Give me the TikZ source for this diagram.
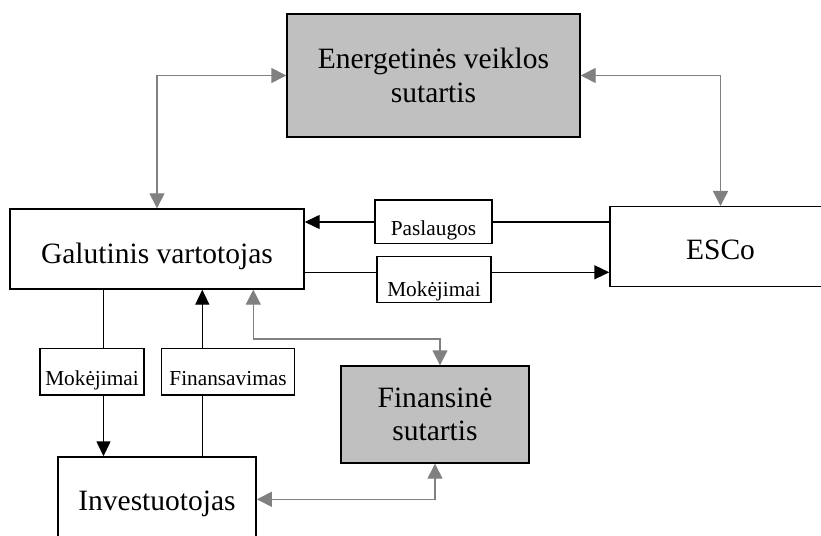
\documentclass[tikz,border=0pt]{standalone}
\usepackage{fontspec}
\setmainfont{Liberation Serif}
\usetikzlibrary{arrows.meta}
\definecolor{boxgray}{HTML}{C0C0C0}
\definecolor{linegray}{HTML}{808080}
\tikzset{
  bigbox/.style={draw=black, line width=1.4bp, inner sep=0pt, align=center,
    font=\fontsize{29.5bp}{33.4bp}\selectfont},
  graybox/.style={bigbox, fill=boxgray},
  lblbox/.style={draw=black, line width=1.4bp, fill=white, inner sep=0pt,
    font=\fontsize{21.3bp}{24bp}\selectfont},
  conn/.style={draw=black, line width=1.4bp, -{Triangle[length=15bp,width=14bp]}},
  gconn/.style={draw=linegray, line width=1.4bp,
    {Triangle[length=15bp,width=15bp]}-{Triangle[length=15bp,width=15bp]}}
}
\begin{document}
\begin{tikzpicture}[x=1bp, y=-1bp]
\useasboundingbox (0,0) rectangle (821,536);
\clip (0,0) rectangle (821,536);
\fill[white] (0,0) rectangle (821,536);

% main boxes
\node[graybox, minimum width=293bp, minimum height=123bp] (energ) at (433.5,75.5)
  {Energetinės veiklos\\sutartis};
\node[bigbox, minimum width=294bp, minimum height=80bp, text height=29bp, text depth=0pt]
  (galut) at (157,249) {Galutinis vartotojas};
\node[bigbox, minimum width=221bp, minimum height=79.6bp, text height=27bp, text depth=0pt]
  (esco) at (720.5,246.5) {ESCo};
\node[graybox, minimum width=188bp, minimum height=97bp] (finans) at (435,414.5)
  {Finansinė\\sutartis};
\node[bigbox, minimum width=198.3bp, minimum height=80bp, text height=27.4bp, text depth=0pt]
  (invest) at (157,497) {Investuotojas};

% helper coordinates
\coordinate (xA) at (103.5,0);
\coordinate (xB) at (202.3,0);
\coordinate (yP) at (0,222);
\coordinate (yM) at (0,272.3);
\coordinate (gC) at (253.3,339);
\coordinate (gD) at (440,339);
\coordinate (gE) at (435,499.3);

% black connectors
\draw[conn] (esco.west |- yP) -- (galut.east |- yP);
\draw[conn] (galut.east |- yM) -- (esco.west |- yM);
\draw[conn] (galut.south -| xA) -- (invest.north -| xA);
\draw[conn] (invest.north -| xB) -- (galut.south -| xB);

% gray connectors
\draw[gconn] (galut.north) |- (energ.west);
\draw[gconn] (energ.east) -| (esco.north);
\draw[gconn] (galut.south -| gC) -- (gC) -- (gD) -- (finans.north -| gD);
\draw[gconn] (finans.south -| gE) -- (gE) -- (invest.east |- gE);

% label boxes on the connectors
\node[lblbox, minimum width=117bp, minimum height=43.3bp, text height=28bp, text depth=0pt]
  (pasl) at (433.5,221.7) {Paslaugos};
\node[lblbox, minimum width=114bp, minimum height=46bp, text height=34bp, text depth=0pt]
  (mokR) at (434,279.7) {Mokėjimai};
\node[lblbox, minimum width=104bp, minimum height=46.5bp, text height=27.6bp, text depth=0pt]
  (mokL) at (92,371.7) {Mokėjimai};
\node[lblbox, minimum width=132.6bp, minimum height=46.5bp, text height=27.6bp, text depth=0pt]
  (finsav) at (228,371.7) {Finansavimas};
\end{tikzpicture}
\end{document}
